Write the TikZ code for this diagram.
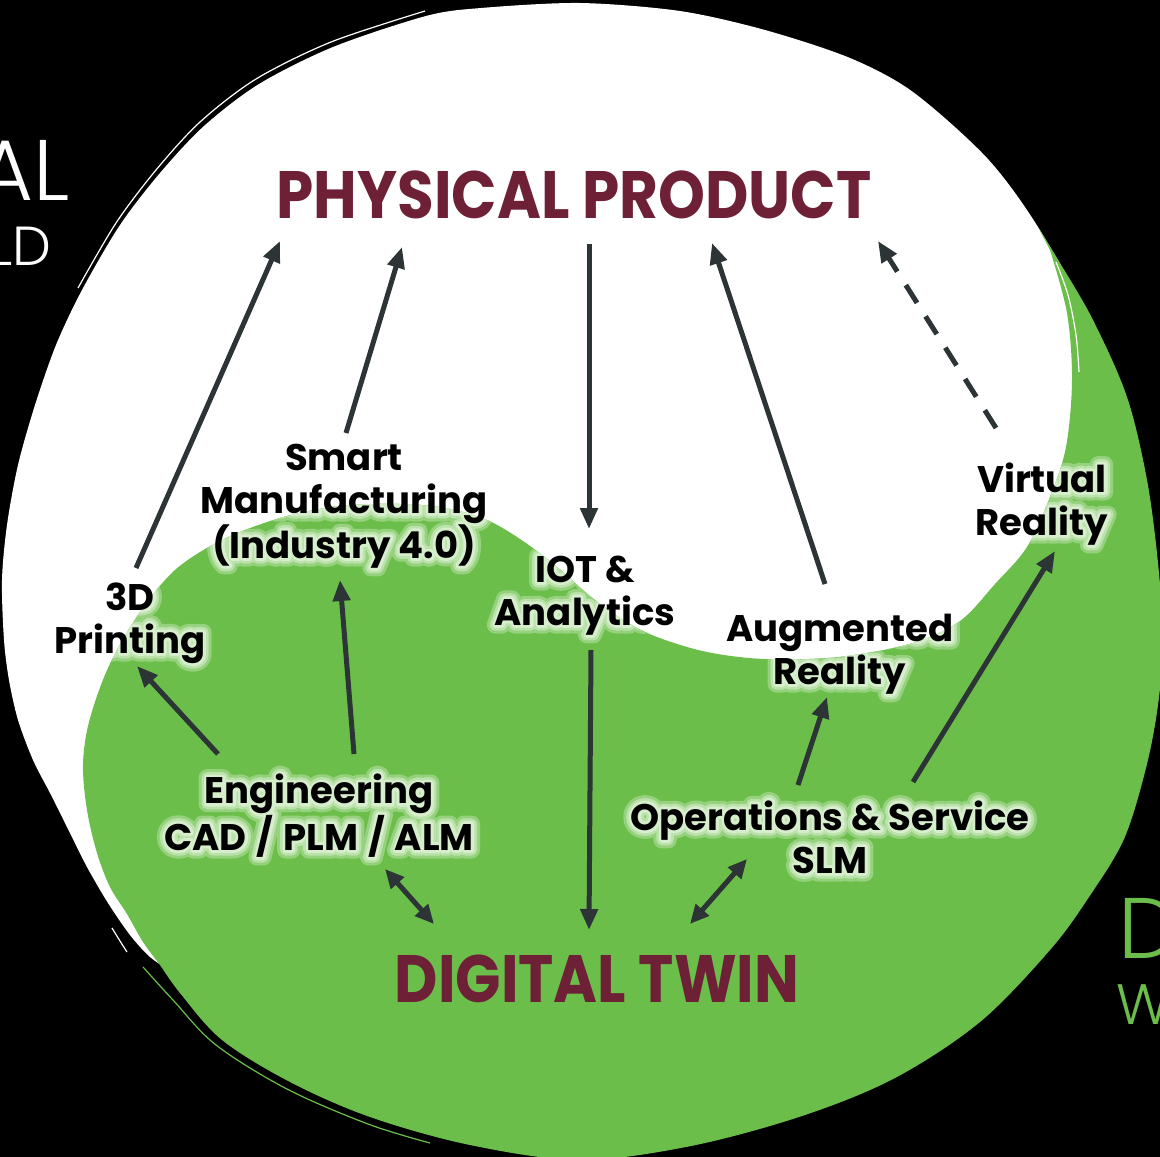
\documentclass[tikz,border=0pt]{standalone}
\usepackage{fontspec}
\setmainfont{Poppins}
\newfontfamily\ttlfont{Poppins}[FakeStretch=0.89]
\newfontfamily\thinfont{Poppins Light}
\newfontfamily\halofontA{Poppins}[BoldFeatures={FakeBold=16}]
\newfontfamily\halofontM{Poppins}[BoldFeatures={FakeBold=30}]
\newfontfamily\halofontB{Poppins}[BoldFeatures={FakeBold=46}]
\usetikzlibrary{arrows.meta}
\definecolor{leaf}{RGB}{108,190,75}
\definecolor{wine}{RGB}{110,32,54}
\definecolor{slate}{RGB}{44,52,54}
\definecolor{glowA}{RGB}{214,238,204}
\definecolor{glowM}{RGB}{186,226,170}
\definecolor{glowB}{RGB}{150,209,126}
\tikzset{
  lbl/.style={font=\bfseries\fontsize{37}{43}\selectfont, align=center, inner sep=0pt, anchor=base},
  haloA/.style={lbl, font=\halofontA\bfseries\fontsize{37}{43}\selectfont, text=glowA},
  haloM/.style={lbl, font=\halofontM\bfseries\fontsize{37}{43}\selectfont, text=glowM},
  haloB/.style={lbl, font=\halofontB\bfseries\fontsize{37}{43}\selectfont, text=glowB},
  ttl/.style={font=\ttlfont\bfseries\fontsize{67}{70}\selectfont, text=wine, inner sep=0pt, anchor=base},
  side/.style={inner sep=0pt},
  arr/.style={draw=slate, line width=5pt, -{Triangle[length=21pt,width=17pt]}},
  darr/.style={draw=slate, line width=5pt, {Triangle[length=19pt,width=17pt]}-{Triangle[length=19pt,width=17pt]}},
  dash arr/.style={arr, dash pattern=on 21pt off 16pt},
  sketch/.style={line width=1.2pt},
}
\newcommand\slsh{\hspace{10pt}/\hspace{10pt}}
\begin{document}
\begin{tikzpicture}[x=1pt,y=-1pt]
\useasboundingbox (0,0) rectangle (1160,1157);
\fill[black] (0,0) rectangle (1160,1157);
% white disc
\fill[white] plot[smooth cycle, tension=0.5] coordinates {
 (580,3) (680,11) (765,30) (850,58) (913,92) (987,158) (1038,227) (1088,320)
 (1120,420) (1138,540) (1142,660) (1118,800) (1050,925) (940,1030) (760,1115)
 (580,1145) (420,1110) (290,1050) (205,995) (172,972) (150,957) (130,935)
 (108,903) (87,867) (67,827) (50,793) (33,760) (18,720) (9,680) (4,640)
 (2,580) (7,525) (18,465) (35,405) (56,345) (82,290) (120,225) (160,173)
 (204,126) (259,84) (333,47) (426,16) (481,8)};
% green region
\fill[leaf, save path=\greenp] plot[smooth, tension=0.55] coordinates {
 (1038,227) (1060,263) (1093,320) (1127,397) (1147,480) (1158,563) (1163,640)
 (1158,705) (1146,768) (1124,839) (1089,897) (1050,950) (980,1022) (895,1078)
 (802,1116) (691,1146) (580,1160) (470,1145) (370,1117) (290,1082) (222,1040)
 (180,993) (160,965) (143,942) (127,914) (110,887) (97,853) (87,810) (83,765)
 (89,722) (108,668) (138,615) (175,570) (222,540) (280,518) (340,506)
 (400,504) (445,508) (487,520) (523,541) (557,567) (590,596) (623,620)
 (657,637) (707,652) (765,659) (839,657) (913,643) (960,621) (995,584)
 (1027,547) (1050,497) (1066,447) (1072,380) (1067,313) (1050,250)} -- cycle;
% sketchy accent strokes
\draw[white, sketch] plot[smooth, tension=0.5] coordinates {
 (425,11) (331,42) (256,79) (200,122) (156,170) (116,223) (78,288)};
\draw[white, sketch] plot[smooth, tension=0.5] coordinates {
 (112,928) (120,941) (127,952)};
\draw[leaf, sketch] plot[smooth, tension=0.55] coordinates {
 (143,967) (173,1000) (216,1045) (287,1089) (368,1124) (430,1143)};
\draw[white, sketch] plot[smooth, tension=0.55] coordinates {
 (1056,262) (1068,295) (1076,335) (1079,372)};
% side words
\node[side, font=\thinfont\fontsize{86}{86}\selectfont, text=white, anchor=base east] (al) at (70,200) {AL};
\node[side, font=\thinfont\fontsize{55}{55}\selectfont, text=white, anchor=base east] (ld) at (52,265) {LD};
\node[side, font=\thinfont\fontsize{86}{86}\selectfont, text=leaf, anchor=base west] (dd) at (1118,958) {D};
\node[side, font=\thinfont\fontsize{57}{57}\selectfont, text=leaf, anchor=base west] (ww) at (1116,1024) {W};
% glow, only on the green part
\begin{scope}[line join=round]
\clip[use path=\greenp];
\node[haloB] (hB1) at (130,653) {3D\\Printing};
\node[haloB] (hB2) at (344,558) {Smart\\Manufacturing\\(Industry 4.0)};
\node[haloB] (hB3) at (585,625) {IOT \&\\Analytics};
\node[haloB] (hB4) at (840,684) {Augmented\\Reality};
\node[haloB] (hB5) at (1042,535) {Virtual\\Reality};
\node[haloB] (hB6) at (319,850) {Engineering\\CAD\slsh PLM\slsh ALM};
\node[haloB] (hB7) at (830,873) {Operations \& Service\\SLM};
\node[haloM] (hM1) at (130,653) {3D\\Printing};
\node[haloM] (hM2) at (344,558) {Smart\\Manufacturing\\(Industry 4.0)};
\node[haloM] (hM3) at (585,625) {IOT \&\\Analytics};
\node[haloM] (hM4) at (840,684) {Augmented\\Reality};
\node[haloM] (hM5) at (1042,535) {Virtual\\Reality};
\node[haloM] (hM6) at (319,850) {Engineering\\CAD\slsh PLM\slsh ALM};
\node[haloM] (hM7) at (830,873) {Operations \& Service\\SLM};
\node[haloA] (hA1) at (130,653) {3D\\Printing};
\node[haloA] (hA2) at (344,558) {Smart\\Manufacturing\\(Industry 4.0)};
\node[haloA] (hA3) at (585,625) {IOT \&\\Analytics};
\node[haloA] (hA4) at (840,684) {Augmented\\Reality};
\node[haloA] (hA5) at (1042,535) {Virtual\\Reality};
\node[haloA] (hA6) at (319,850) {Engineering\\CAD\slsh PLM\slsh ALM};
\node[haloA] (hA7) at (830,873) {Operations \& Service\\SLM};
\end{scope}
% labels
\node[ttl] (pp) at (574,218) {PHYSICAL PRODUCT};
\node[ttl] (dt) at (597,1002) {DIGITAL TWIN};
\node[lbl] (tdp) at (130,653) {3D\\Printing};
\node[lbl] (smf) at (344,558) {Smart\\Manufacturing\\(Industry 4.0)};
\node[lbl] (iot) at (585,625) {IOT \&\\Analytics};
\node[lbl] (aug) at (840,684) {Augmented\\Reality};
\node[lbl] (vr) at (1042,535) {Virtual\\Reality};
\node[lbl] (eng) at (319,850) {Engineering\\CAD\slsh PLM\slsh ALM};
\node[lbl] (ops) at (830,873) {Operations \& Service\\SLM};
% arrow end points
\coordinate (tdpT) at (136,568);  \coordinate (ppA) at (280,241);
\coordinate (smfT) at (346,433);  \coordinate (ppB) at (402,247);
\coordinate (ppC) at (589,244);   \coordinate (iotT) at (589,529);
\coordinate (augT) at (825,584);  \coordinate (ppD) at (712,243);
\coordinate (vrT) at (996,428);   \coordinate (ppE) at (878,241);
\coordinate (engL) at (218,754);  \coordinate (tdpB) at (137,666);
\coordinate (engT) at (354,754);  \coordinate (smfB) at (340,580);
\coordinate (engB) at (385,869);  \coordinate (dtL) at (434,924);
\coordinate (iotB) at (591,650);  \coordinate (dtT) at (589,930);
\coordinate (opsB) at (747,859);  \coordinate (dtR) at (690,924);
\coordinate (opsL) at (798,785);  \coordinate (augB) at (827,697);
\coordinate (opsR) at (913,782);  \coordinate (vrB) at (1055,551);
% connectors
\draw[arr] (tdpT) -- (ppA);
\draw[arr] (smfT) -- (ppB);
\draw[arr] (ppC) -- (iotT);
\draw[arr] (augT) -- (ppD);
\draw[dash arr] (vrT) -- (ppE);
\draw[arr] (engL) -- (tdpB);
\draw[arr] (engT) -- (smfB);
\draw[darr] (engB) -- (dtL);
\draw[arr] (iotB) -- (dtT);
\draw[darr] (opsB) -- (dtR);
\draw[arr] (opsL) -- (augB);
\draw[arr] (opsR) -- (vrB);
\end{tikzpicture}
\end{document}
